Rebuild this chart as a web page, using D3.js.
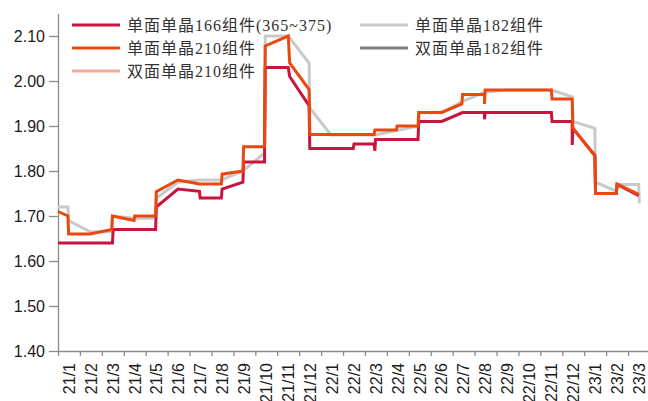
<!DOCTYPE html>
<html>
<head>
<meta charset="utf-8">
<script src="https://cdn.jsdelivr.net/npm/d3@7"></script>
<style>
  body { margin: 0; background: #fff; }
  .axis text { font: 16px "Liberation Sans", Arial, sans-serif; fill: #1a1a1a; }
  .axis path, .axis line { stroke: #8c8c8c; stroke-width: 1.3; }
  .legend text { font-size: 16px; font-family: "Liberation Serif", "Noto Sans CJK SC", serif; fill: #333; letter-spacing: 1px; }
</style>
</head>
<body>
<svg width="648" height="401"></svg>
<script>
var months = ["21/1","21/2","21/3","21/4","21/5","21/6","21/7","21/8","21/9","21/10","21/11","21/12",
  "22/1","22/2","22/3","22/4","22/5","22/6","22/7","22/8","22/9","22/10","22/11","22/12",
  "23/1","23/2","23/3"];
var yTicks = [1.40, 1.50, 1.60, 1.70, 1.80, 1.90, 2.00, 2.10];

// 单面单晶166组件(365~375)
var p166 = [
  ["2021-01-01",1.64],["2021-03-16",1.64],["2021-03-17",1.67],["2021-05-15",1.67],["2021-05-16",1.72],
  ["2021-06-15",1.76],["2021-07-15",1.755],["2021-07-16",1.74],["2021-08-15",1.74],["2021-08-16",1.76],
  ["2021-09-14",1.775],["2021-09-15",1.82],["2021-10-14",1.82],["2021-10-15",2.03],["2021-11-16",2.03],
  ["2021-11-18",2.01],["2021-12-15",1.945],["2021-12-16",1.85],["2022-02-14",1.85],["2022-02-15",1.86],
  ["2022-03-14",1.86],["2022-03-15",1.845],["2022-03-16",1.87],["2022-05-14",1.87],["2022-05-15",1.91],
  ["2022-06-16",1.91],["2022-07-15",1.93],["2022-08-15",1.93],["2022-08-15",1.915],["2022-08-16",1.93],
  ["2022-11-16",1.93],["2022-11-17",1.91],["2022-12-15",1.91],["2022-12-15",1.858],["2022-12-16",1.895],
  ["2023-01-16",1.835],["2023-01-17",1.75],["2023-02-14",1.75],["2023-02-15",1.77],["2023-03-16",1.745]
];
// 单面单晶182组件
var p182 = [
  ["2021-01-01",1.72],["2021-01-15",1.72],["2021-01-16",1.69],["2021-02-14",1.665],["2021-03-15",1.665],
  ["2021-03-16",1.70],["2021-04-15",1.695],["2021-05-15",1.695],["2021-05-16",1.74],["2021-06-15",1.775],
  ["2021-07-15",1.78],["2021-08-15",1.78],["2021-09-14",1.80],["2021-10-14",1.84],["2021-10-15",2.10],
  ["2021-11-16",2.10],["2021-12-15",2.04],["2021-12-16",1.94],["2022-01-15",1.88],["2022-03-15",1.88],
  ["2022-04-14",1.89],["2022-05-15",1.90],["2022-05-16",1.93],["2022-06-16",1.93],["2022-07-15",1.955],
  ["2022-08-15",1.975],["2022-09-15",1.98],["2022-11-16",1.98],["2022-12-15",1.965],["2022-12-16",1.91],
  ["2023-01-16",1.895],["2023-01-17",1.775],["2023-02-14",1.755],["2023-02-15",1.77],["2023-03-16",1.77],
  ["2023-03-17",1.728]
];
// 单面单晶210组件
var p210 = [
  ["2021-01-01",1.71],["2021-01-15",1.70],["2021-01-16",1.66],["2021-02-14",1.66],["2021-03-15",1.67],
  ["2021-03-16",1.70],["2021-04-15",1.69],["2021-04-16",1.70],["2021-05-15",1.70],["2021-05-16",1.754],
  ["2021-06-15",1.78],["2021-07-15",1.771],["2021-08-15",1.771],["2021-08-16",1.793],["2021-09-14",1.80],
  ["2021-09-15",1.854],["2021-10-14",1.854],["2021-10-15",2.078],["2021-11-16",2.10],["2021-11-18",2.04],
  ["2021-12-15",1.981],["2021-12-16",1.881],["2022-03-14",1.881],["2022-03-15",1.891],["2022-04-14",1.891],
  ["2022-04-15",1.90],["2022-05-14",1.90],["2022-05-15",1.93],["2022-06-16",1.93],["2022-07-14",1.949],
  ["2022-07-15",1.97],["2022-08-15",1.97],["2022-08-15",1.949],["2022-08-16",1.98],["2022-11-16",1.98],
  ["2022-11-17",1.96],["2022-12-15",1.96],["2022-12-16",1.895],["2023-01-16",1.834],["2023-01-17",1.75],
  ["2023-02-14",1.75],["2023-02-15",1.771],["2023-03-16",1.748]
];
// 双面单晶210组件 / 双面单晶182组件 (no visible data in the chart)
var pBi210 = [];
var pBi182 = [];

var seriesNames = ["单面单晶166组件(365~375)", "单面单晶210组件", "双面单晶210组件", "单面单晶182组件", "双面单晶182组件"];
var seriesColors = ["#C8143E", "#E9480F", "#F8AA98", "#C9C9C9", "#7F7F7F"];
var seriesData = [p166, p210, pBi210, p182, pBi182];
var drawOrder = [4, 2, 3, 0, 1];

function monthPos(s) {
  var p = s.split("-").map(Number);
  var days = new Date(p[0], p[1], 0).getDate();
  return (p[0] - 2021) * 12 + (p[1] - 1) + (p[2] - 1) / days;
}

var svg = d3.select("svg");
var plotLeft = 58, plotRight = 650, plotTop = 13.5, plotBottom = 351;

var x = d3.scaleLinear().domain([0, months.length]).range([plotLeft, plotRight]);
var xBand = d3.scaleBand().domain(months).range([plotLeft, plotRight]);
var y = d3.scaleLinear().domain([1.40, 2.15]).range([plotBottom, plotTop]);

// y axis
svg.append("g").attr("class", "axis")
  .attr("transform", "translate(" + plotLeft + ",0)")
  .call(d3.axisLeft(y).tickValues(yTicks).tickFormat(d3.format(".2f")).tickSize(9).tickSizeOuter(0).tickPadding(4));

// x axis ticks
svg.append("g").attr("class", "axis")
  .attr("transform", "translate(0," + plotBottom + ")")
  .call(d3.axisBottom(x).tickValues(d3.range(months.length + 1)).tickFormat("").tickSize(5).tickSizeOuter(0));

// x axis labels (rotated)
svg.append("g").attr("class", "axis")
  .selectAll("text").data(months).enter().append("text")
  .attr("transform", function (d) { return "translate(" + (xBand(d) + xBand.bandwidth() / 2) + "," + (plotBottom + 12) + ") rotate(-90)"; })
  .attr("text-anchor", "end")
  .attr("dy", "0.36em")
  .text(function (d) { return d; });

// lines
var line = d3.line()
  .x(function (d) { return x(monthPos(d[0])); })
  .y(function (d) { return y(d[1]); });

drawOrder.forEach(function (i) {
  if (!seriesData[i].length) return;
  svg.append("path")
    .datum(seriesData[i])
    .attr("fill", "none")
    .attr("stroke", seriesColors[i])
    .attr("stroke-width", 3)
    .attr("stroke-linejoin", "miter")
    .attr("d", line);
});

// legend
var legendX = [72, 72, 72, 360, 360];
var legendY = [25, 48, 71, 25, 48];
var legend = svg.append("g").attr("class", "legend");
seriesNames.forEach(function (name, i) {
  var g = legend.append("g").attr("transform", "translate(" + legendX[i] + "," + legendY[i] + ")");
  g.append("line").attr("x1", 0).attr("x2", 48).attr("y1", 0).attr("y2", 0)
    .attr("stroke", seriesColors[i]).attr("stroke-width", 3);
  g.append("text").attr("x", 55).attr("dy", "0.36em").text(name);
});
</script>
</body>
</html>
